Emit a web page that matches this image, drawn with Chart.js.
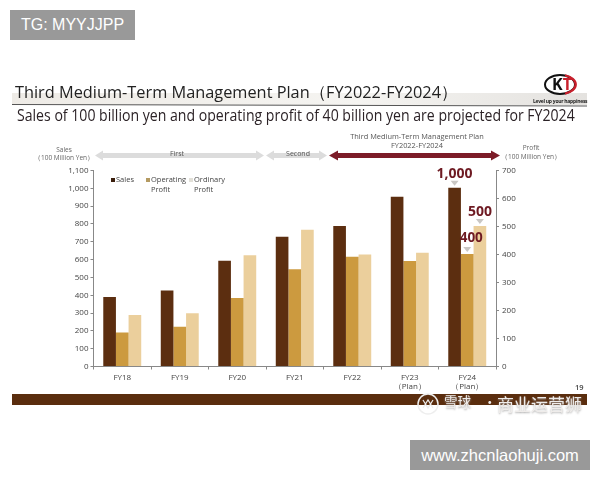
<!DOCTYPE html>
<html><head><meta charset="utf-8">
<script src="https://cdn.jsdelivr.net/npm/chart.js@4"></script>
<style>
html,body{margin:0;padding:0;background:#fff;width:600px;height:480px;overflow:hidden}
#wrap{position:relative;width:600px;height:480px;font-family:"Open Sans",sans-serif}
canvas{position:absolute;left:0;top:0}
.t{position:absolute;white-space:nowrap;line-height:1}
.c{text-align:center;transform:translateX(-50%)}
.box{position:absolute;background:#999;color:#fff;font-family:"Liberation Sans",sans-serif;display:flex;align-items:center;justify-content:center}
svg{position:absolute;left:0;top:0}
.sw{position:absolute;width:4px;height:4px}
</style></head><body>
<div id="wrap">
<div style="position:absolute;left:12px;top:93px;width:575px;height:12px;background:linear-gradient(90deg,#eeebe6,#f5f4f1 60%,#e4e2df)"></div>
<div style="position:absolute;left:12px;top:394px;width:575px;height:11px;background:#5a2d0e"></div>
<canvas id="c" width="600" height="480"></canvas>
<svg width="600" height="480">
<line x1="12" y1="104.5" x2="587" y2="106" stroke="#555" stroke-width="1"/>
<polygon points="95,155.5 103,150.5 103,153 256,153 256,150.5 264,155.5 256,160.5 256,158 103,158 103,160.5" fill="#dcdcdc"/>
<polygon points="266,155.5 274,150.5 274,153 319,153 319,150.5 327,155.5 319,160.5 319,158 274,158 274,160.5" fill="#dcdcdc"/>
<polygon points="329,155.5 338,150.5 338,153 491,153 491,150.5 500,155.5 491,160.5 491,158 338,158 338,160.5" fill="#7c1c28"/>
<ellipse cx="560" cy="84.5" rx="15" ry="9.5" fill="#fff" stroke="#111" stroke-width="2"/>
<path d="M565 75.4 A15 9.5 0 0 1 565 93.6" fill="none" stroke="#c8202c" stroke-width="2.4"/>
</svg>
<div class="t" style="left:15px;top:83px;font-size:17px;color:#222;transform:scaleX(.96);transform-origin:left">Third Medium-Term Management Plan（FY2022-FY2024）</div>
<div class="t" style="left:17px;top:108px;font-size:15.5px;color:#2b2226;transform:scaleX(.909);transform-origin:left">Sales of 100 billion yen and operating profit of 40 billion yen are projected for FY2024</div>
<div class="t" style="left:552px;top:76px;font-size:16px;font-weight:700;color:#111">K<span style="color:#c8202c">T</span></div>
<div class="t" style="left:533px;top:99px;font-size:5px;font-weight:700;color:#222;letter-spacing:-.26px">Level up your happiness</div>
<div class="t c" style="left:64px;top:147px;font-size:6.5px;color:#666">Sales</div>
<div class="t c" style="left:64px;top:155px;font-size:6.5px;color:#666">（100 Million Yen）</div>
<div class="t c" style="left:177px;top:150px;font-size:7px;color:#555">First</div>
<div class="t c" style="left:298px;top:150px;font-size:7px;color:#555">Second</div>
<div class="t c" style="left:417px;top:133px;font-size:7.4px;color:#555">Third Medium-Term Management Plan</div>
<div class="t c" style="left:417px;top:142px;font-size:7.4px;color:#555">FY2022-FY2024</div>
<div class="t c" style="left:531px;top:145px;font-size:6.5px;color:#666">Profit</div>
<div class="t c" style="left:531px;top:154px;font-size:6.5px;color:#666">（100 Million Yen）</div>
<div id="legend"></div>
<div class="t" style="left:575px;top:384px;font-size:7.5px;font-weight:600;color:#444">19</div>
<div class="t" style="left:444px;top:395px;font-size:13.5px;color:#efecea;font-family:'Noto Sans CJK SC';text-shadow:0 1px 2px #aaa">雪球</div>
<div class="t" style="left:483px;top:395px;font-size:13.5px;color:#efecea;font-family:'Noto Sans CJK SC'">·</div>
<div class="t" style="left:497px;top:395px;font-size:17px;color:#efecea;font-family:'Noto Sans CJK SC';text-shadow:0 1px 2px #aaa">商业运营狮</div>
<svg width="600" height="480" style="pointer-events:none"><circle cx="428" cy="404" r="10" fill="none" stroke="#eeeeee" stroke-width="1.5"/><path d="M423 400l5 8 5-8M423 408l5-8 5 8" fill="none" stroke="#eeeeee" stroke-width="1.2"/></svg>
<div class="box" style="left:10px;top:10px;width:125px;height:30px;font-size:16px">TG: MYYJJPP</div>
<div class="box" style="left:410px;top:440px;width:180px;height:30px;font-size:16.5px">www.zhcnlaohuji.com</div>
</div>
<script>
const categories = ["FY18","FY19","FY20","FY21","FY22",["FY23","（Plan）"],["FY24","（Plan）"]];
const sales = [390,427,594,728,788,953,1003];
const operatingProfit = [121,142,245,347,392,377,402];
const ordinaryProfit = [184,190,397,488,400,406,502];
const salesTicks = 100;
const profitTicks = 100;
const callouts = [
 {ds:0,i:6,text:"1,000",size:14,dx:0,dy:-10},
 {ds:2,i:6,text:"500",size:14,dx:0,dy:-10},
 {ds:1,i:6,text:"400",size:13.5,dx:4,dy:-12}
];
const legendItems = [
 {x:111,lines:["Sales"],color:"#3a1e0c"},
 {x:146,lines:["Operating","Profit"],color:"#b49a62"},
 {x:189,lines:["Ordinary","Profit"],color:"#e2e0d8"}
];
const lg=document.getElementById("legend");
legendItems.forEach(it=>{
  const s=document.createElement("div");s.className="sw";s.style.cssText+=`left:${it.x}px;top:178px;background:${it.color}`;lg.appendChild(s);
  it.lines.forEach((l,k)=>{const d=document.createElement("div");d.className="t";d.style.cssText=`left:${it.x+5}px;top:${176+k*10}px;font-size:7.5px;color:#444`;d.textContent=l;lg.appendChild(d);});
});
const callout={id:"callout",afterDatasetsDraw(ch){
  const c=ch.ctx;c.save();
  callouts.forEach(o=>{
    const el=ch.getDatasetMeta(o.ds).data[o.i];
    c.fillStyle="#c9c7c4";c.beginPath();c.moveTo(el.x-4,el.y-7);c.lineTo(el.x+4,el.y-7);c.lineTo(el.x,el.y-2);c.closePath();c.fill();
    c.fillStyle="#6e1a22";c.font=`700 ${o.size}px "Open Sans"`;c.textAlign="center";c.textBaseline="alphabetic";
    c.fillText(o.text,el.x+o.dx,el.y+o.dy);
  });
  c.restore();
}};
const tickFont={family:"Open Sans",size:8};
new Chart(document.getElementById("c"),{
 type:"bar",
 data:{labels:categories,datasets:[
  {label:"Sales",data:sales,yAxisID:"y",backgroundColor:"#5c2e10"},
  {label:"Operating Profit",data:operatingProfit,yAxisID:"y1",backgroundColor:"#cc9a3f"},
  {label:"Ordinary Profit",data:ordinaryProfit,yAxisID:"y1",backgroundColor:"#ebcf9c"}
 ]},
 options:{
  responsive:false,animation:false,
  layout:{padding:{top:170.5,left:0,right:0,bottom:0}},
  datasets:{bar:{barPercentage:1,categoryPercentage:0.66}},
  plugins:{legend:{display:false},tooltip:{enabled:false}},
  scales:{
   x:{afterFit(s){s.height=113.5},grid:{drawOnChartArea:false,tickLength:3,color:"#888"},border:{color:"#888",width:1},
      ticks:{font:tickFont,color:"#444",padding:3,maxRotation:0,autoSkip:false}},
   y:{position:"left",min:0,max:1100,afterFit(s){s.width=93.5},grid:{drawOnChartArea:false,tickLength:3,color:"#888"},border:{color:"#888",width:1},
      ticks:{stepSize:salesTicks,font:tickFont,color:"#444",padding:2,callback:v=>v.toLocaleString("en-US")}},
   y1:{position:"right",min:0,max:700,afterFit(s){s.width=104},grid:{drawOnChartArea:false,tickLength:3,color:"#888"},border:{color:"#888",width:1},
      ticks:{stepSize:profitTicks,font:tickFont,color:"#444",padding:3}}
  }
 },
 plugins:[callout]
});
</script>
</body></html>
